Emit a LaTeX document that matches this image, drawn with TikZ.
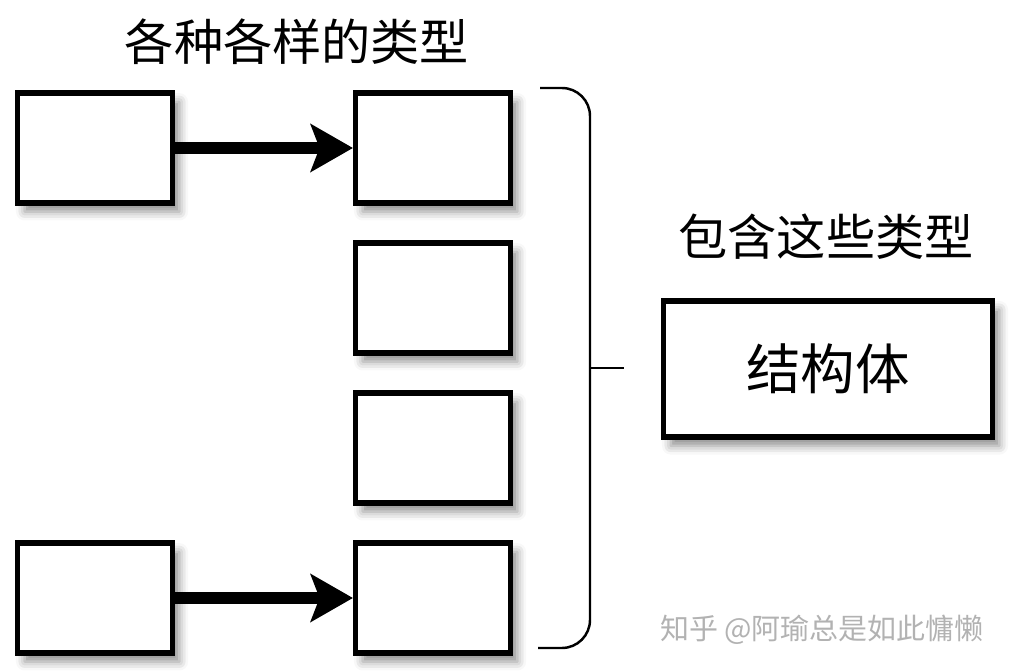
\documentclass[tikz,border=0pt]{standalone}
\usepackage{fontspec}
\newfontfamily\cjk{Noto Sans CJK SC}
\usetikzlibrary{arrows.meta,shadows.blur}

\begin{document}
\begin{tikzpicture}[x=0.02cm,y=-0.02cm]
      \useasboundingbox (0,0) rectangle (1014,671);

      \begin{scope}[every node/.style={rectangle,draw,line width=3.1pt,fill=white,inner sep=0pt,
          minimum width=88pt,minimum height=62.5pt,
          blur shadow={shadow xshift=4pt,shadow yshift=-5pt,shadow blur radius=5pt,shadow opacity=45}}]
        \node (1) at (95,148)  {};
        \node (2) at (433,148) {};
        \node (3) at (433,298) {};
        \node (4) at (433,448) {};
        \node (5) at (433,598) {};
        \node (6) at (95,598)  {};
        \node[minimum width=187pt,minimum height=77.5pt,font=\cjk\fontsize{31pt}{33pt}\selectfont]
          (s) at (828,369) {结构体};
      \end{scope}

      \begin{scope}[every edge/.style={draw,line width=6.8pt,-{Stealth[length=24pt,width=27pt,inset=5pt]}}]
        \path (1) edge (2);
        \path (6) edge (5);
      \end{scope}

      \begin{scope}[every node/.style={font=\cjk\fontsize{28pt}{30pt}\selectfont}]
        \node (t1) at (297,42)  {各种各样的类型};
        \node (t2) at (826,237) {包含这些类型};
      \end{scope}

      \coordinate (b) at (590,368);
      \coordinate (bt) at (624,368);
      \draw[line width=1.4pt,rounded corners=16pt] (540,88) -| (b) |- (538,648);
      \draw[line width=1.4pt] (b) -- (bt);

      \node[text=black!30,font=\cjk\fontsize{16.5pt}{18pt}\selectfont] (w) at (822,630) {知乎 @阿瑜总是如此慵懒};

    \end{tikzpicture}
\end{document}
